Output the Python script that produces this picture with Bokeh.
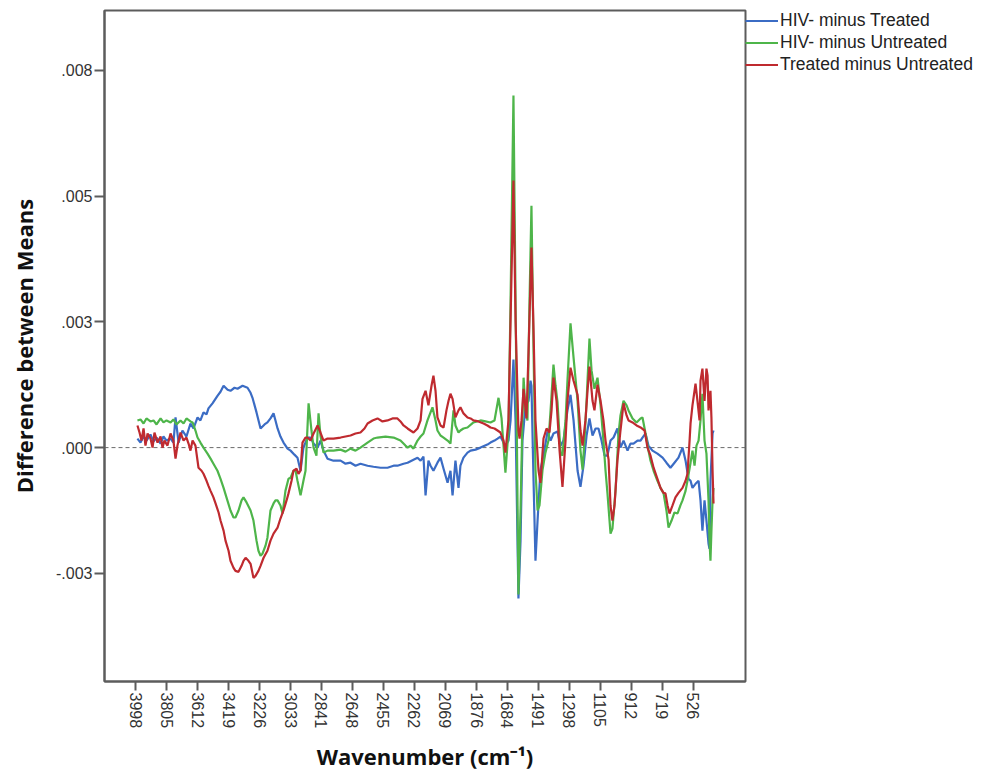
import math
from bokeh.plotting import figure
from bokeh.models import Range1d, FixedTicker, Span, Legend, LegendItem
from bokeh.embed import file_html
from bokeh.resources import INLINE

# ---------------- data ----------------
tick_wavenumbers = [3998, 3805, 3612, 3419, 3226, 3033, 2841, 2648, 2455, 2262,
                    2069, 1876, 1684, 1491, 1298, 1105, 912, 719, 526]
y_ticks = [-0.0025, 0.0, 0.0025, 0.005, 0.0075]
y_tick_labels = ["-.003", ".000", ".003", ".005", ".008"]

series_names = ["HIV- minus Treated", "HIV- minus Untreated", "Treated minus Untreated"]

# (wavenumber cm-1, difference between means)
hiv_minus_treated = [
    (3986, 0.00018), (3967, 0.00010), (3948, 0.00022), (3930, 0.00014), (3905, 0.00026),
    (3886, 0.00012), (3867, 0.00020), (3842, 0.00008), (3824, 0.00022), (3805, 0.00014),
    (3780, 0.00018), (3762, 0.00010), (3749, 0.00060), (3730, 0.00010), (3706, 0.00034),
    (3681, 0.00022), (3656, 0.00048), (3637, 0.00038), (3612, 0.00060), (3594, 0.00054),
    (3575, 0.00070), (3556, 0.00066), (3544, 0.00078), (3519, 0.00088), (3488, 0.00103),
    (3469, 0.00111), (3450, 0.00123), (3425, 0.00115), (3407, 0.00113), (3382, 0.00119),
    (3363, 0.00117), (3332, 0.00123), (3301, 0.00119), (3282, 0.00109), (3270, 0.00099),
    (3245, 0.00070), (3220, 0.00038), (3195, 0.00046), (3177, 0.00050), (3158, 0.00058),
    (3139, 0.00068), (3127, 0.00054), (3114, 0.00038), (3096, 0.00022), (3077, 0.00010),
    (3052, -0.00002), (3033, -0.00006), (3009, -0.00014), (2990, -0.00020), (2971, -0.00046),
    (2953, 0.00000), (2928, 0.00020), (2909, 0.00020), (2890, 0.00008), (2865, 0.00000),
    (2847, 0.00014), (2828, -0.00006), (2803, -0.00022), (2766, -0.00026), (2722, -0.00026),
    (2691, -0.00032), (2660, -0.00030), (2629, -0.00036), (2598, -0.00032), (2554, -0.00036),
    (2517, -0.00038), (2473, -0.00040), (2430, -0.00040), (2392, -0.00036), (2368, -0.00036),
    (2330, -0.00032), (2305, -0.00030), (2268, -0.00024), (2243, -0.00020), (2224, -0.00026),
    (2206, -0.00018), (2193, -0.00095), (2175, -0.00026), (2162, -0.00036), (2144, -0.00046),
    (2119, -0.00030), (2100, -0.00020), (2081, -0.00042), (2056, -0.00070), (2038, -0.00046),
    (2025, -0.00095), (2007, -0.00026), (1988, -0.00080), (1976, -0.00036), (1957, -0.00020),
    (1932, -0.00010), (1913, -0.00006), (1882, -0.00004), (1851, 0.00000), (1808, 0.00006),
    (1789, 0.00010), (1764, 0.00014), (1745, 0.00018), (1727, 0.00022), (1708, 0.00010),
    (1696, 0.00004), (1677, 0.00014), (1664, 0.00054), (1646, 0.00175), (1633, 0.00054),
    (1615, -0.00300), (1602, -0.00185), (1590, 0.00014), (1571, 0.00084), (1552, 0.00093),
    (1540, 0.00133), (1534, 0.00123), (1521, -0.00066), (1509, -0.00225), (1496, -0.00145),
    (1478, -0.00044), (1459, -0.00016), (1434, 0.00032), (1415, 0.00014), (1397, 0.00028),
    (1372, 0.00032), (1353, 0.00004), (1335, 0.00014), (1310, 0.00074), (1291, 0.00105),
    (1272, 0.00054), (1247, -0.00046), (1229, -0.00078), (1210, -0.00036), (1191, 0.00024),
    (1173, 0.00058), (1154, 0.00024), (1135, 0.00038), (1117, 0.00038), (1098, 0.00014),
    (1079, -0.00016), (1061, -0.00016), (1042, 0.00014), (1023, 0.00020), (999, 0.00038),
    (980, 0.00000), (961, 0.00014), (936, -0.00006), (918, 0.00008), (899, 0.00008),
    (874, 0.00014), (855, 0.00014), (843, 0.00020), (824, 0.00028), (806, 0.00004),
    (781, -0.00006), (750, -0.00012), (718, -0.00020), (694, -0.00030), (669, -0.00040),
    (644, -0.00030), (619, -0.00020), (594, 0.00000), (575, -0.00026), (557, -0.00062),
    (544, -0.00066), (532, -0.00080), (513, -0.00072), (494, -0.00066), (482, -0.00105),
    (470, -0.00165), (457, -0.00105), (445, -0.00145), (432, -0.00191), (426, -0.00201),
    (420, -0.00066), (407, 0.00028), (401, 0.00034),
]

hiv_minus_untreated = [
    (3986, 0.00054), (3967, 0.00056), (3948, 0.00048), (3930, 0.00058), (3905, 0.00052),
    (3886, 0.00054), (3867, 0.00046), (3842, 0.00058), (3824, 0.00050), (3805, 0.00054),
    (3780, 0.00050), (3762, 0.00056), (3743, 0.00046), (3718, 0.00054), (3699, 0.00048),
    (3681, 0.00058), (3656, 0.00052), (3643, 0.00050), (3625, 0.00034), (3612, 0.00020),
    (3594, 0.00010), (3575, 0.00000), (3550, -0.00012), (3531, -0.00022), (3513, -0.00032),
    (3488, -0.00046), (3469, -0.00062), (3450, -0.00080), (3432, -0.00099), (3407, -0.00125),
    (3388, -0.00139), (3376, -0.00139), (3357, -0.00125), (3338, -0.00105), (3326, -0.00099),
    (3307, -0.00109), (3282, -0.00125), (3264, -0.00145), (3245, -0.00185), (3233, -0.00205),
    (3220, -0.00215), (3208, -0.00211), (3189, -0.00195), (3177, -0.00179), (3158, -0.00125),
    (3139, -0.00111), (3127, -0.00105), (3114, -0.00105), (3096, -0.00115), (3083, -0.00131),
    (3065, -0.00086), (3046, -0.00062), (3033, -0.00060), (3015, -0.00046), (3002, -0.00046),
    (2990, -0.00066), (2971, -0.00095), (2953, -0.00066), (2940, -0.00046), (2921, 0.00088),
    (2903, 0.00034), (2890, 0.00000), (2872, -0.00016), (2859, 0.00068), (2847, 0.00024),
    (2828, -0.00010), (2803, -0.00006), (2766, -0.00006), (2722, -0.00004), (2691, -0.00008),
    (2660, -0.00002), (2629, -0.00006), (2598, 0.00000), (2554, 0.00010), (2517, 0.00018),
    (2492, 0.00020), (2442, 0.00022), (2392, 0.00020), (2349, 0.00014), (2318, 0.00004),
    (2305, 0.00000), (2287, 0.00004), (2268, -0.00002), (2243, 0.00014), (2224, 0.00022),
    (2206, 0.00028), (2181, 0.00054), (2162, 0.00070), (2150, 0.00080), (2131, 0.00054),
    (2119, 0.00034), (2100, 0.00024), (2081, 0.00020), (2056, 0.00014), (2038, 0.00008),
    (2019, 0.00074), (2007, 0.00044), (1988, 0.00030), (1976, 0.00034), (1957, 0.00038),
    (1932, 0.00040), (1895, 0.00050), (1851, 0.00054), (1820, 0.00052), (1789, 0.00050),
    (1764, 0.00054), (1739, 0.00099), (1720, 0.00058), (1696, -0.00050), (1677, 0.00034),
    (1664, 0.00292), (1646, 0.00700), (1633, 0.00292), (1615, -0.00292), (1602, -0.00125),
    (1590, 0.00058), (1583, 0.00139), (1571, 0.00074), (1559, 0.00054), (1546, 0.00292),
    (1534, 0.00481), (1521, 0.00193), (1509, -0.00044), (1496, -0.00125), (1484, -0.00115),
    (1465, -0.00044), (1447, -0.00010), (1428, 0.00014), (1415, 0.00074), (1397, 0.00165),
    (1384, 0.00123), (1372, 0.00091), (1353, -0.00010), (1341, -0.00016), (1322, 0.00054),
    (1310, 0.00133), (1291, 0.00247), (1272, 0.00179), (1247, 0.00093), (1229, -0.00006),
    (1216, -0.00044), (1204, 0.00014), (1191, 0.00093), (1173, 0.00217), (1160, 0.00153),
    (1142, 0.00117), (1123, 0.00139), (1104, 0.00084), (1086, 0.00014), (1073, -0.00046),
    (1061, -0.00091), (1042, -0.00171), (1030, -0.00161), (1011, -0.00086), (992, 0.00028),
    (980, 0.00064), (961, 0.00093), (942, 0.00084), (930, 0.00074), (905, 0.00058),
    (880, 0.00050), (855, 0.00058), (843, 0.00060), (824, 0.00028), (806, -0.00006),
    (793, -0.00026), (774, -0.00046), (750, -0.00066), (731, -0.00080), (712, -0.00091),
    (694, -0.00125), (681, -0.00159), (662, -0.00145), (644, -0.00129), (625, -0.00131),
    (607, -0.00115), (594, -0.00105), (575, -0.00086), (563, -0.00066), (544, -0.00030),
    (532, -0.00006), (519, -0.00036), (507, 0.00004), (494, 0.00014), (482, 0.00054),
    (470, 0.00107), (457, 0.00014), (445, -0.00012), (432, -0.00105), (426, -0.00185),
    (420, -0.00225), (414, -0.00165), (407, -0.00105), (401, -0.00080),
]

treated_minus_untreated = [
    (3986, 0.00044), (3973, 0.00030), (3961, 0.00014), (3948, 0.00038), (3936, 0.00004),
    (3923, 0.00028), (3905, 0.00018), (3892, 0.00000), (3880, 0.00030), (3861, 0.00010),
    (3842, 0.00022), (3830, 0.00000), (3818, 0.00014), (3799, 0.00004), (3780, 0.00028),
    (3762, 0.00014), (3749, -0.00022), (3737, 0.00004), (3718, 0.00030), (3699, 0.00014),
    (3681, 0.00020), (3668, 0.00008), (3656, -0.00006), (3643, 0.00014), (3625, 0.00004),
    (3606, -0.00040), (3587, -0.00046), (3575, -0.00052), (3556, -0.00066), (3544, -0.00076),
    (3531, -0.00086), (3513, -0.00099), (3500, -0.00111), (3481, -0.00129), (3469, -0.00145),
    (3450, -0.00165), (3438, -0.00185), (3419, -0.00205), (3407, -0.00225), (3388, -0.00239),
    (3376, -0.00245), (3357, -0.00247), (3338, -0.00235), (3326, -0.00225), (3313, -0.00219),
    (3295, -0.00225), (3282, -0.00231), (3264, -0.00259), (3251, -0.00255), (3233, -0.00245),
    (3220, -0.00235), (3201, -0.00219), (3177, -0.00205), (3158, -0.00185), (3139, -0.00171),
    (3114, -0.00159), (3096, -0.00141), (3077, -0.00125), (3058, -0.00105), (3046, -0.00091),
    (3027, -0.00066), (3015, -0.00046), (2996, -0.00042), (2984, -0.00052), (2971, -0.00046),
    (2959, 0.00010), (2940, 0.00020), (2928, 0.00020), (2909, 0.00014), (2890, 0.00028),
    (2865, 0.00044), (2847, 0.00030), (2828, 0.00014), (2803, 0.00018), (2766, 0.00018),
    (2722, 0.00020), (2691, 0.00022), (2660, 0.00024), (2629, 0.00028), (2598, 0.00030),
    (2573, 0.00038), (2554, 0.00048), (2523, 0.00054), (2492, 0.00058), (2461, 0.00052),
    (2430, 0.00054), (2399, 0.00058), (2368, 0.00058), (2349, 0.00052), (2330, 0.00044),
    (2305, 0.00038), (2287, 0.00034), (2268, 0.00030), (2243, 0.00038), (2224, 0.00054),
    (2212, 0.00097), (2193, 0.00113), (2175, 0.00084), (2156, 0.00123), (2144, 0.00143),
    (2131, 0.00113), (2119, 0.00060), (2100, 0.00044), (2081, 0.00040), (2063, 0.00074),
    (2050, 0.00093), (2038, 0.00107), (2025, 0.00097), (2007, 0.00060), (1988, 0.00074),
    (1976, 0.00080), (1957, 0.00068), (1932, 0.00060), (1913, 0.00058), (1895, 0.00054),
    (1864, 0.00052), (1832, 0.00048), (1808, 0.00044), (1789, 0.00040), (1764, 0.00038),
    (1745, 0.00034), (1727, 0.00030), (1708, 0.00014), (1696, -0.00010), (1677, 0.00054),
    (1664, 0.00253), (1646, 0.00531), (1633, 0.00253), (1615, 0.00034), (1608, 0.00018),
    (1596, 0.00054), (1583, 0.00117), (1565, 0.00058), (1552, 0.00193), (1534, 0.00398),
    (1521, 0.00233), (1509, 0.00054), (1490, -0.00046), (1478, -0.00070), (1459, 0.00018),
    (1440, 0.00038), (1422, 0.00030), (1409, 0.00074), (1397, 0.00139), (1378, 0.00093),
    (1359, -0.00006), (1341, -0.00078), (1322, 0.00014), (1310, 0.00093), (1291, 0.00159),
    (1272, 0.00133), (1247, 0.00105), (1229, 0.00034), (1216, 0.00004), (1198, 0.00054),
    (1185, 0.00113), (1173, 0.00161), (1154, 0.00093), (1142, 0.00074), (1123, 0.00125),
    (1104, 0.00093), (1086, 0.00054), (1073, 0.00014), (1054, -0.00024), (1042, -0.00115),
    (1030, -0.00145), (1017, -0.00115), (999, -0.00026), (980, 0.00034), (961, 0.00088),
    (942, 0.00064), (930, 0.00054), (905, 0.00050), (880, 0.00044), (855, 0.00040),
    (830, 0.00034), (812, 0.00000), (793, -0.00016), (774, -0.00040), (750, -0.00062),
    (731, -0.00080), (712, -0.00090), (700, -0.00091), (687, -0.00115), (675, -0.00131),
    (656, -0.00115), (638, -0.00099), (619, -0.00090), (594, -0.00080), (575, -0.00066),
    (563, -0.00052), (550, 0.00014), (544, 0.00048), (532, 0.00084), (513, 0.00127),
    (501, 0.00093), (488, 0.00054), (482, 0.00133), (470, 0.00157), (457, 0.00093),
    (445, 0.00157), (438, 0.00143), (432, 0.00074), (420, 0.00113), (414, 0.00060),
    (407, -0.00046), (401, -0.00111),
]

series_data = [hiv_minus_treated, hiv_minus_untreated, treated_minus_untreated]
series_colors = ["#3b6cc4", "#4eb54a", "#bf2a2f"]

# ---------------- figure ----------------
p = figure(
    frame_width=641, frame_height=671,
    x_range=Range1d(4191, 202), y_range=Range1d(-0.00465, 0.00869),
    output_backend="svg", toolbar_location=None,
    min_border_left=104, min_border_top=10, min_border_bottom=96, min_border_right=0,
    background_fill_color="white", border_fill_color="white",
)
p.xgrid.visible = False
p.ygrid.visible = False
p.outline_line_color = "#5c5c5c"
p.outline_line_width = 2

zero = Span(location=0, dimension="width", line_color="#6a6a6a",
            line_dash="4 3", line_width=1, level="underlay")
p.add_layout(zero)

renderers = []
for data, color in zip(series_data, series_colors):
    xs = [w for w, _ in data]
    ys = [v for _, v in data]
    r = p.line(xs, ys, line_color=color, line_width=2.2)
    renderers.append(r)

# axes
for ax in (p.xaxis[0], p.yaxis[0]):
    ax.axis_line_color = "#5c5c5c"
    ax.axis_line_width = 2
    ax.major_tick_line_color = "#5c5c5c"
    ax.major_tick_line_width = 2
    ax.major_tick_in = 0
    ax.minor_tick_line_color = None
    ax.major_label_text_font = "Liberation Sans"
    ax.major_label_text_font_size = "16px"
    ax.major_label_text_color = "#333333"
    ax.axis_label_text_font = "Open Sans"
    ax.axis_label_text_font_style = "bold"
    ax.axis_label_text_font_size = "22px"
    ax.axis_label_text_color = "#111111"

p.xaxis.ticker = FixedTicker(ticks=tick_wavenumbers)
p.xaxis.major_label_orientation = -math.pi / 2
p.xaxis.major_tick_out = 9
p.xaxis.major_label_standoff = 2
p.xaxis.axis_label = "Wavenumber (cm\u207b\u00b9)"
p.xaxis.axis_label_standoff = 10

p.yaxis.ticker = FixedTicker(ticks=y_ticks)
p.yaxis.major_label_overrides = {t: lab for t, lab in zip(y_ticks, y_tick_labels)}
p.yaxis.major_tick_out = 10
p.yaxis.major_label_standoff = 2
p.yaxis.axis_label = "Difference between Means"
p.yaxis.axis_label_standoff = 14

legend = Legend(
    items=[LegendItem(label=n, renderers=[r]) for n, r in zip(series_names, renderers)],
    location="top_left", margin=0, padding=1, spacing=1,
    glyph_width=33, glyph_height=21, label_height=21, label_standoff=2,
    label_text_font="Liberation Sans", label_text_font_size="17.5px",
    label_text_color="#222222",
    border_line_color=None, background_fill_alpha=0,
)
p.add_layout(legend, "right")

open("out.html", "w").write(file_html(p, INLINE))
